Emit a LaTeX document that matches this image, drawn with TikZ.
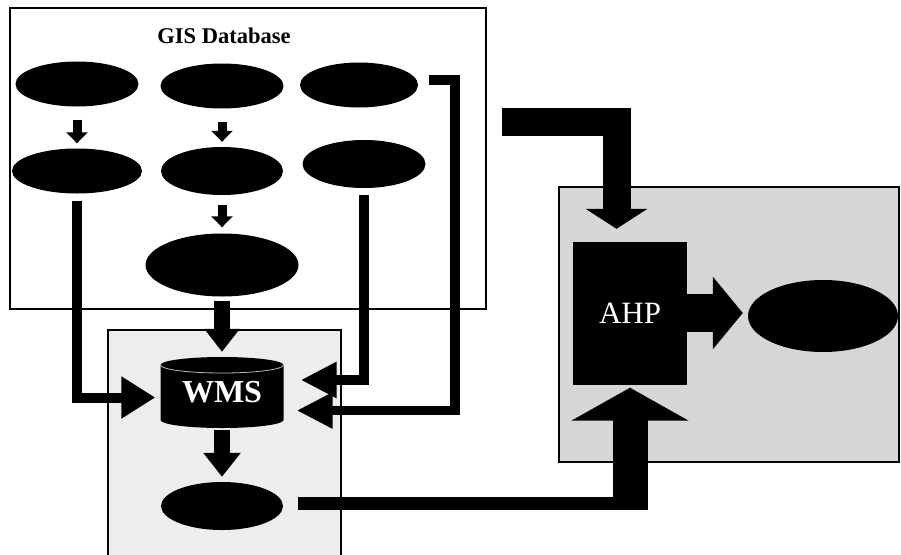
\documentclass[tikz,border=0pt]{standalone}
\usepackage{fontspec}
\setmainfont{Liberation Serif}
\usetikzlibrary{arrows.meta,shapes.geometric,calc}
\begin{document}
\begin{tikzpicture}[x=1pt,y=-1pt,
  blob/.style={ellipse,fill=black,inner sep=0pt},
  panel/.style={draw=black,line width=1.2pt},
  smallarr/.style={line width=9pt,-{Triangle[width=21pt,length=11pt]}},
  pipe/.style={line width=9.5pt,line join=miter},
  fatarr/.style={line width=16pt,line join=miter}
]
\useasboundingbox (0,0) rectangle (901,554);
\fill[white] (0,0) rectangle (901,554);
% panels
\draw[panel,fill=white] (10,8) rectangle (486,309);
\draw[panel,fill=gray!14] (108,330) rectangle (341,570);
\draw[panel,fill=gray!32] (559,187) rectangle (899,462);
% title
\node[font=\bfseries\fontsize{22.5}{24}\selectfont] (title) at (224,36) {GIS Database};
% GIS database ellipses
\node[blob,minimum width=123pt,minimum height=45pt] (e1) at (77,84) {};
\node[blob,minimum width=123pt,minimum height=45pt] (e2) at (222,86) {};
\node[blob,minimum width=118pt,minimum height=45pt] (e3) at (359,85) {};
\node[blob,minimum width=130pt,minimum height=45pt] (e4) at (77,171) {};
\node[blob,minimum width=122pt,minimum height=48pt] (e5) at (222,171) {};
\node[blob,minimum width=123pt,minimum height=48pt] (e6) at (364,164) {};
\node[blob,minimum width=153pt,minimum height=63pt] (e7) at (222,265) {};
% WMS cylinder
\fill (160.5,365) -- (160.5,420) arc[start angle=180,end angle=360,x radius=61.5pt,y radius=8pt]
  -- (283.5,365) arc[start angle=0,end angle=180,x radius=61.5pt,y radius=8pt] -- cycle;
\draw[gray!55,line width=0.8pt] (160.5,365) arc[start angle=180,end angle=360,x radius=61.5pt,y radius=8pt];
\node[minimum width=123pt,minimum height=71pt,inner sep=0pt,text=white,
  font=\bfseries\fontsize{32}{32}\selectfont] (wms) at (222,392.5) {WMS};
\node[blob,minimum width=122pt,minimum height=48pt] (e8) at (222,506) {};
% AHP and output
\node[fill=black,minimum width=114pt,minimum height=143pt,inner sep=0pt,text=white,
  font=\fontsize{31}{31}\selectfont] (ahp) at (630,313) {AHP};
\node[blob,minimum width=150pt,minimum height=72pt] (eout) at (823,316) {};
% small arrows
\draw[smallarr] ([yshift=-13pt]e1.south) -- ([yshift=5pt]e4.north);
\draw[smallarr] ([yshift=-13pt]e2.south) -- ([yshift=5pt]e5.north);
\draw[smallarr] ([yshift=-10pt]e5.south) -- ([yshift=6pt]e7.north);
% into WMS
\draw[line width=10pt,line join=miter,-{Triangle[width=40pt,length=34pt]}]
  ([yshift=-7pt]e4.south) |- ([xshift=-5pt,yshift=-5pt]wms.west);
\draw[fatarr,-{Triangle[width=34pt,length=23pt]}] ([yshift=-4pt]e7.south) -- ([yshift=5pt]wms.north);
\draw[pipe,-{Triangle[width=34pt,length=36pt]}] ([yshift=-7pt]e6.south) |- ([xshift=17pt,yshift=12.5pt]wms.east);
\coordinate (k1) at (455,80);
\draw[pipe,-{Triangle[width=34pt,length=36pt]}] ([xshift=11pt,yshift=5pt]e3.east) -- (k1)
  |- ([xshift=13pt,yshift=-18pt]wms.east);
% WMS to lower ellipse
\draw[fatarr,-{Triangle[width=36pt,length=24pt]}] ([yshift=-2pt]wms.south) -- ([yshift=5pt]e8.north);
% lower ellipse to AHP
\coordinate (b1) at (647,503.5);
\draw[line width=13pt] ([xshift=15pt,yshift=2.5pt]e8.east) -- (b1);
\coordinate (b2) at (630,510);
\draw[line width=35pt,-{Triangle[width=116pt,length=33pt]}] (b2) -- ([yshift=-3pt]ahp.south);
% top L arrow into AHP
\coordinate (t0) at (502,122);
\draw[line width=28pt,line join=miter,-{Triangle[width=61pt,length=20pt]}]
  (t0) -| ([xshift=-13.5pt,yshift=12.5pt]ahp.north);
% AHP to output
\draw[line width=38pt,-{Triangle[width=71pt,length=30pt]}] (ahp.east) -- ($(ahp.east -| eout.west)+(-5,0)$);
\end{tikzpicture}
\end{document}
